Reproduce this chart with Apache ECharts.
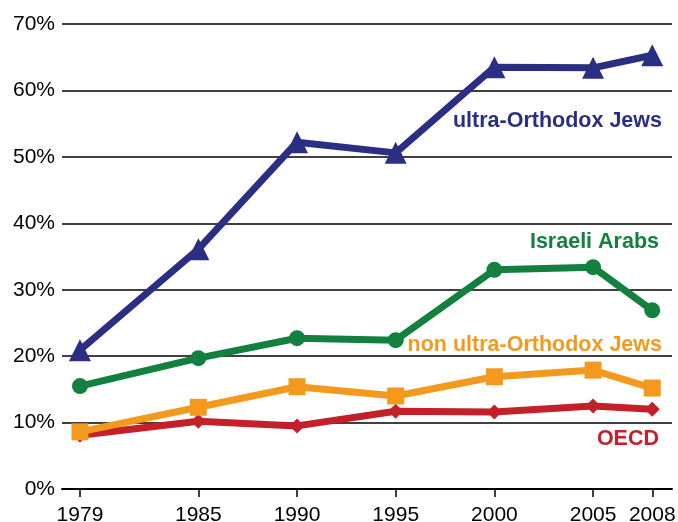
<!DOCTYPE html>
<html>
<head>
<meta charset="utf-8">
<script src="https://cdn.jsdelivr.net/npm/echarts@6/dist/echarts.min.js"></script>
<style>html,body{margin:0;padding:0;background:#fff;}#c{width:678px;height:522px;}</style>
</head>
<body>
<div id="c"></div>
<script>
var years = [1979, 1985, 1990, 1995, 2000, 2005, 2008];
var ultraOrthodox = [20.9, 36.1, 52.2, 50.6, 63.5, 63.4, 65.3];
var israeliArabs = [15.5, 19.7, 22.7, 22.4, 33.0, 33.4, 26.9];
var nonUltraOrthodox = [8.6, 12.3, 15.4, 14.0, 16.9, 17.9, 15.2];
var oecd = [8.1, 10.2, 9.5, 11.7, 11.6, 12.5, 12.0];
var yTicks = [0, 10, 20, 30, 40, 50, 60, 70];

function pairs(vals) { return years.map(function (y, i) { return [y, vals[i]]; }); }

var chart = echarts.init(document.getElementById('c'), null, { renderer: 'canvas' });
var font = '"Liberation Sans", Arial, Helvetica, sans-serif';
function lineSeries(name, vals, color, symbol, size) {
  return {
    name: name, type: 'line', data: pairs(vals),
    symbol: symbol, symbolSize: size, showSymbol: true,
    lineStyle: { color: color, width: 7 },
    itemStyle: { color: color },
    animation: false
  };
}
chart.setOption({
  animation: false,
  grid: { left: 62, right: 6, top: 24, bottom: 33, containLabel: false, outerBoundsMode: 'none' },
  xAxis: {
    type: 'value', min: 1978.09, max: 2009.0,
    axisLine: { show: true, lineStyle: { color: '#000', width: 2 } },
    axisTick: { show: true, length: 8, inside: false, customValues: years, lineStyle: { color: '#000', width: 1.5 } },
    axisLabel: { customValues: years, color: '#000', fontSize: 21, fontFamily: font, margin: 16, formatter: function (v) { return String(v); } },
    splitLine: { show: false }
  },
  yAxis: {
    type: 'value', min: yTicks[0], max: yTicks[yTicks.length - 1], interval: 10,
    axisLine: { show: false }, axisTick: { show: false },
    axisLabel: { color: '#000', fontSize: 21, fontFamily: font, margin: 7, formatter: '{value}%' },
    splitLine: { show: true, lineStyle: { color: '#000', width: 1.5 } }
  },
  series: [
    lineSeries('OECD', oecd, '#C4202A', 'diamond', 15),
    lineSeries('non ultra-Orthodox Jews', nonUltraOrthodox, '#F39A1E', 'rect', 17),
    lineSeries('Israeli Arabs', israeliArabs, '#13803F', 'circle', 16),
    lineSeries('ultra-Orthodox Jews', ultraOrthodox, '#2B2F83', 'triangle', 22)
  ],
  graphic: [
    { type: 'text', right: 16, top: 110, style: { text: 'ultra-Orthodox Jews', fill: '#2B2F83', font: 'bold 21.5px ' + font } },
    { type: 'text', right: 19, top: 231, style: { text: 'Israeli Arabs', fill: '#13803F', font: 'bold 21.5px ' + font } },
    { type: 'text', right: 16, top: 334, style: { text: 'non ultra-Orthodox Jews', fill: '#F39A1E', font: 'bold 21.5px ' + font } },
    { type: 'text', right: 19, top: 428, style: { text: 'OECD', fill: '#C4202A', font: 'bold 21.5px ' + font } }
  ]
});
</script>
</body>
</html>
